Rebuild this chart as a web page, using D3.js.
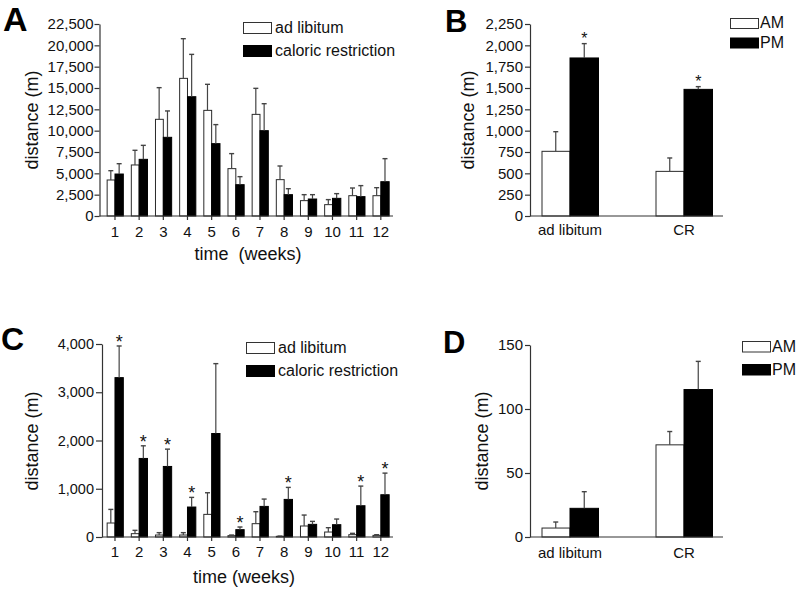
<!DOCTYPE html>
<html><head><meta charset="utf-8">
<script src="https://cdn.jsdelivr.net/npm/d3@7"></script>
<style>
html,body{margin:0;padding:0;background:#fff;}
svg{display:block;font-family:"Liberation Sans",Arial,sans-serif;}
</style></head>
<body>
<svg id="chart" width="800" height="591"></svg>
<script>
// ---------- DATA ----------
const weeks = ["1","2","3","4","5","6","7","8","9","10","11","12"];
const seriesWeekly = ["ad libitum", "caloric restriction"];
const seriesAmPm = ["AM", "PM"];
const groupsAmPm = ["ad libitum", "CR"];

// Panel A (distance, m) – mean and SEM
const aAdLib    = [4220, 5980, 11330, 16130, 12380, 5550, 11910, 4260, 1800, 1330, 2380, 2380];
const aAdLibSem = [1090, 1720, 3710, 4650, 3050, 1760, 3050, 1600, 700, 590, 900, 940];
const aCR       = [4920, 6640, 9220, 13980, 8480, 3670, 10000, 2500, 1990, 2070, 2270, 4020];
const aCRSem    = [1210, 1640, 3090, 4960, 2230, 940, 3160, 700, 510, 550, 1290, 2700];
const aTicks    = [0, 2500, 5000, 7500, 10000, 12500, 15000, 17500, 20000, 22500];

// Panel B
const bAM     = [758, 523];
const bAMSem  = [230, 157];
const bPM     = [1852, 1484];
const bPMSem  = [168, 32];
const bPMSig  = [1, 1];
const bTicks  = [0, 250, 500, 750, 1000, 1250, 1500, 1750, 2000, 2250];

// Panel C
const cAdLib    = [290, 69, 41, 41, 469, 28, 276, 14, 228, 103, 48, 34];
const cAdLibSem = [282, 69, 49, 49, 448, 13, 248, 5, 227, 90, 28, 14];
const cCR       = [3303, 1628, 1462, 621, 2145, 152, 634, 779, 262, 255, 648, 876];
const cCRSem    = [656, 262, 359, 200, 1448, 55, 152, 249, 62, 117, 407, 448];
const cCRSig    = [1, 1, 1, 1, 0, 1, 0, 1, 0, 0, 1, 1];
const cTicks    = [0, 1000, 2000, 3000, 4000];

// Panel D
const dAM     = [7.0, 72.0];
const dAMSem  = [4.7, 10.4];
const dPM     = [22.4, 115.2];
const dPMSem  = [13.0, 22.0];
const dTicks  = [0, 50, 100, 150];

// ---------- DRAW ----------
const svg = d3.select("#chart");
const fmt = d3.format(",");

function drawPanel(cfg) {
  const g = svg.append("g");
  const y = d3.scaleLinear().domain([0, cfg.yMax]).range([cfg.bottom, cfg.top]);
  const x0 = d3.scaleBand().domain(cfg.cats).range(cfg.bandRange)
    .paddingInner(cfg.padInner).paddingOuter(cfg.padInner / 2);
  const x1 = d3.scaleBand().domain([0, 1]).range([0, x0.bandwidth()]);

  // bars
  const rows = [];
  cfg.cats.forEach((c, i) => {
    cfg.series.forEach((s, j) => {
      rows.push({cat: c, j: j, v: s.vals[i], sem: s.sem[i], sig: s.sig ? s.sig[i] : 0});
    });
  });
  const bars = g.selectAll(".bar").data(rows).enter();
  bars.append("rect")
    .attr("x", d => x0(d.cat) + x1(d.j) + (d.j === 0 ? 0.5 : 0))
    .attr("y", d => y(d.v))
    .attr("width", d => x1.bandwidth() - (d.j === 0 ? 0.5 : 0))
    .attr("height", d => y(0) - y(d.v))
    .attr("fill", d => d.j === 0 ? "#fff" : "#000")
    .attr("stroke", d => d.j === 0 ? "#2a2a2a" : "#000")
    .attr("stroke-width", 1);

  // error bars
  const cx = d => x0(d.cat) + x1(d.j) + x1.bandwidth() / 2;
  bars.append("line")
    .attr("x1", cx).attr("x2", cx)
    .attr("y1", d => y(d.v)).attr("y2", d => y(d.v + d.sem))
    .attr("stroke", "#444").attr("stroke-width", 1.2);
  bars.append("line")
    .attr("x1", d => cx(d) - 2.5).attr("x2", d => cx(d) + 2.5)
    .attr("y1", d => y(d.v + d.sem)).attr("y2", d => y(d.v + d.sem))
    .attr("stroke", "#444").attr("stroke-width", 1.4);
  // significance
  g.selectAll(".sig").data(rows.filter(d => d.sig)).enter().append("text")
    .attr("x", cx).attr("y", d => y(d.v + d.sem) + cfg.sigDy)
    .attr("text-anchor", "middle").attr("font-size", cfg.sigSize)
    .attr("fill", "#111").text("*");

  // y axis
  const ya = g.append("g").attr("transform", `translate(${cfg.axisX},0)`)
    .call(d3.axisLeft(y).tickValues(cfg.ticks).tickFormat(fmt)
      .tickSize(cfg.tickSize).tickPadding(cfg.yPad).tickSizeOuter(0));
  ya.selectAll("path,line").attr("stroke", "#333").attr("stroke-width", 1.2);
  ya.selectAll("text").attr("font-size", cfg.yFont).attr("fill", "#111")
    .attr("font-family", "Liberation Sans, Arial, sans-serif");

  // x axis baseline
  g.append("line").attr("x1", cfg.axisX).attr("x2", cfg.right)
    .attr("y1", y(0)).attr("y2", y(0)).attr("stroke", "#333").attr("stroke-width", 1.2);
  const xa = g.append("g").attr("transform", `translate(0,${y(0)})`)
    .call(d3.axisBottom(x0).tickSize(cfg.xTickSize).tickPadding(cfg.xPad).tickSizeOuter(0));
  xa.select(".domain").remove();
  xa.selectAll("line").attr("stroke", "#333").attr("stroke-width", 1.2);
  xa.selectAll("text").attr("font-size", cfg.xFont).attr("fill", "#111")
    .attr("font-family", "Liberation Sans, Arial, sans-serif");

  // titles
  g.append("text").attr("transform", `translate(${cfg.yTitleX},${cfg.yTitleY}) rotate(-90)`)
    .attr("text-anchor", "middle").attr("font-size", 18).attr("fill", "#111").text("distance (m)");
  if (cfg.xTitle) {
    g.append("text").attr("x", cfg.xTitleX).attr("y", cfg.xTitleY)
      .attr("text-anchor", "middle").attr("font-size", 18).attr("fill", "#111")
      .style("white-space", "pre").text(cfg.xTitle);
  }
  // panel letter
  g.append("text").attr("x", cfg.letterX).attr("y", cfg.letterY)
    .attr("font-size", cfg.letterSize).attr("font-weight", "bold").attr("fill", "#000")
    .text(cfg.letter);

  // legend
  const lg = g.append("g");
  cfg.series.forEach((s, j) => {
    lg.append("rect").attr("x", cfg.legX + 0.5).attr("y", cfg.legY[j] + 0.5)
      .attr("width", cfg.legW).attr("height", cfg.legH)
      .attr("fill", j === 0 ? "#fff" : "#000").attr("stroke", j === 0 ? "#333" : "#000");
    lg.append("text").attr("x", cfg.legX + cfg.legW + cfg.legGap).attr("y", cfg.legY[j] + cfg.legH)
      .attr("font-size", 16).attr("fill", "#111").text(s.name);
  });
}

// A
drawPanel({
  letter: "A", letterX: 3, letterY: 31, letterSize: 34,
  cats: weeks, yMax: 22500, top: 24, bottom: 216, ticks: aTicks,
  axisX: 99.5, right: 393, bandRange: [102.9, 392.9], padInner: 0.31,
  series: [
    {name: seriesWeekly[0], vals: aAdLib, sem: aAdLibSem},
    {name: seriesWeekly[1], vals: aCR, sem: aCRSem}
  ],
  sigDy: 2, sigSize: 17,
  tickSize: 5, yPad: 1, yFont: 15,
  xTickSize: 4, xPad: 6, xFont: 15,
  yTitleX: 38, yTitleY: 120,
  xTitle: "time  (weeks)", xTitleX: 248, xTitleY: 260,
  legX: 243, legY: [22, 45], legW: 28, legH: 11, legGap: 4
});
// B
drawPanel({
  letter: "B", letterX: 445, letterY: 32, letterSize: 31,
  cats: groupsAmPm, yMax: 2250, top: 24, bottom: 216, ticks: bTicks,
  axisX: 530, right: 723, bandRange: [513, 741], padInner: 0.5,
  series: [
    {name: seriesAmPm[0], vals: bAM, sem: bAMSem},
    {name: seriesAmPm[1], vals: bPM, sem: bPMSem, sig: bPMSig}
  ],
  sigDy: 0, sigSize: 16,
  tickSize: 5, yPad: 2, yFont: 15,
  xTickSize: 0, xPad: 8, xFont: 15,
  yTitleX: 474, yTitleY: 120,
  xTitle: null,
  legX: 730, legY: [18, 37.5], legW: 28, legH: 10, legGap: 2
});
// C
drawPanel({
  letter: "C", letterX: 1, letterY: 350, letterSize: 32,
  cats: weeks, yMax: 4000, top: 344, bottom: 537, ticks: cTicks,
  axisX: 102, right: 393, bandRange: [102.9, 392.9], padInner: 0.31,
  series: [
    {name: seriesWeekly[0], vals: cAdLib, sem: cAdLibSem},
    {name: seriesWeekly[1], vals: cCR, sem: cCRSem, sig: cCRSig}
  ],
  sigDy: 2, sigSize: 18,
  tickSize: 6, yPad: 2, yFont: 14.5,
  xTickSize: 4, xPad: 5, xFont: 15,
  yTitleX: 38, yTitleY: 441,
  xTitle: "time (weeks)", xTitleX: 244, xTitleY: 583,
  legX: 246, legY: [342, 365], legW: 28, legH: 11, legGap: 4
});
// D
drawPanel({
  letter: "D", letterX: 443, letterY: 353, letterSize: 31,
  cats: groupsAmPm, yMax: 150, top: 345, bottom: 537, ticks: dTicks,
  axisX: 530, right: 723, bandRange: [513, 741], padInner: 0.5,
  series: [
    {name: seriesAmPm[0], vals: dAM, sem: dAMSem},
    {name: seriesAmPm[1], vals: dPM, sem: dPMSem}
  ],
  sigDy: 0, sigSize: 16,
  tickSize: 5, yPad: 2, yFont: 15,
  xTickSize: 0, xPad: 10, xFont: 15,
  yTitleX: 488, yTitleY: 441,
  xTitle: null,
  legX: 742, legY: [341, 364], legW: 28, legH: 10.5, legGap: 2
});
</script>
</body></html>
